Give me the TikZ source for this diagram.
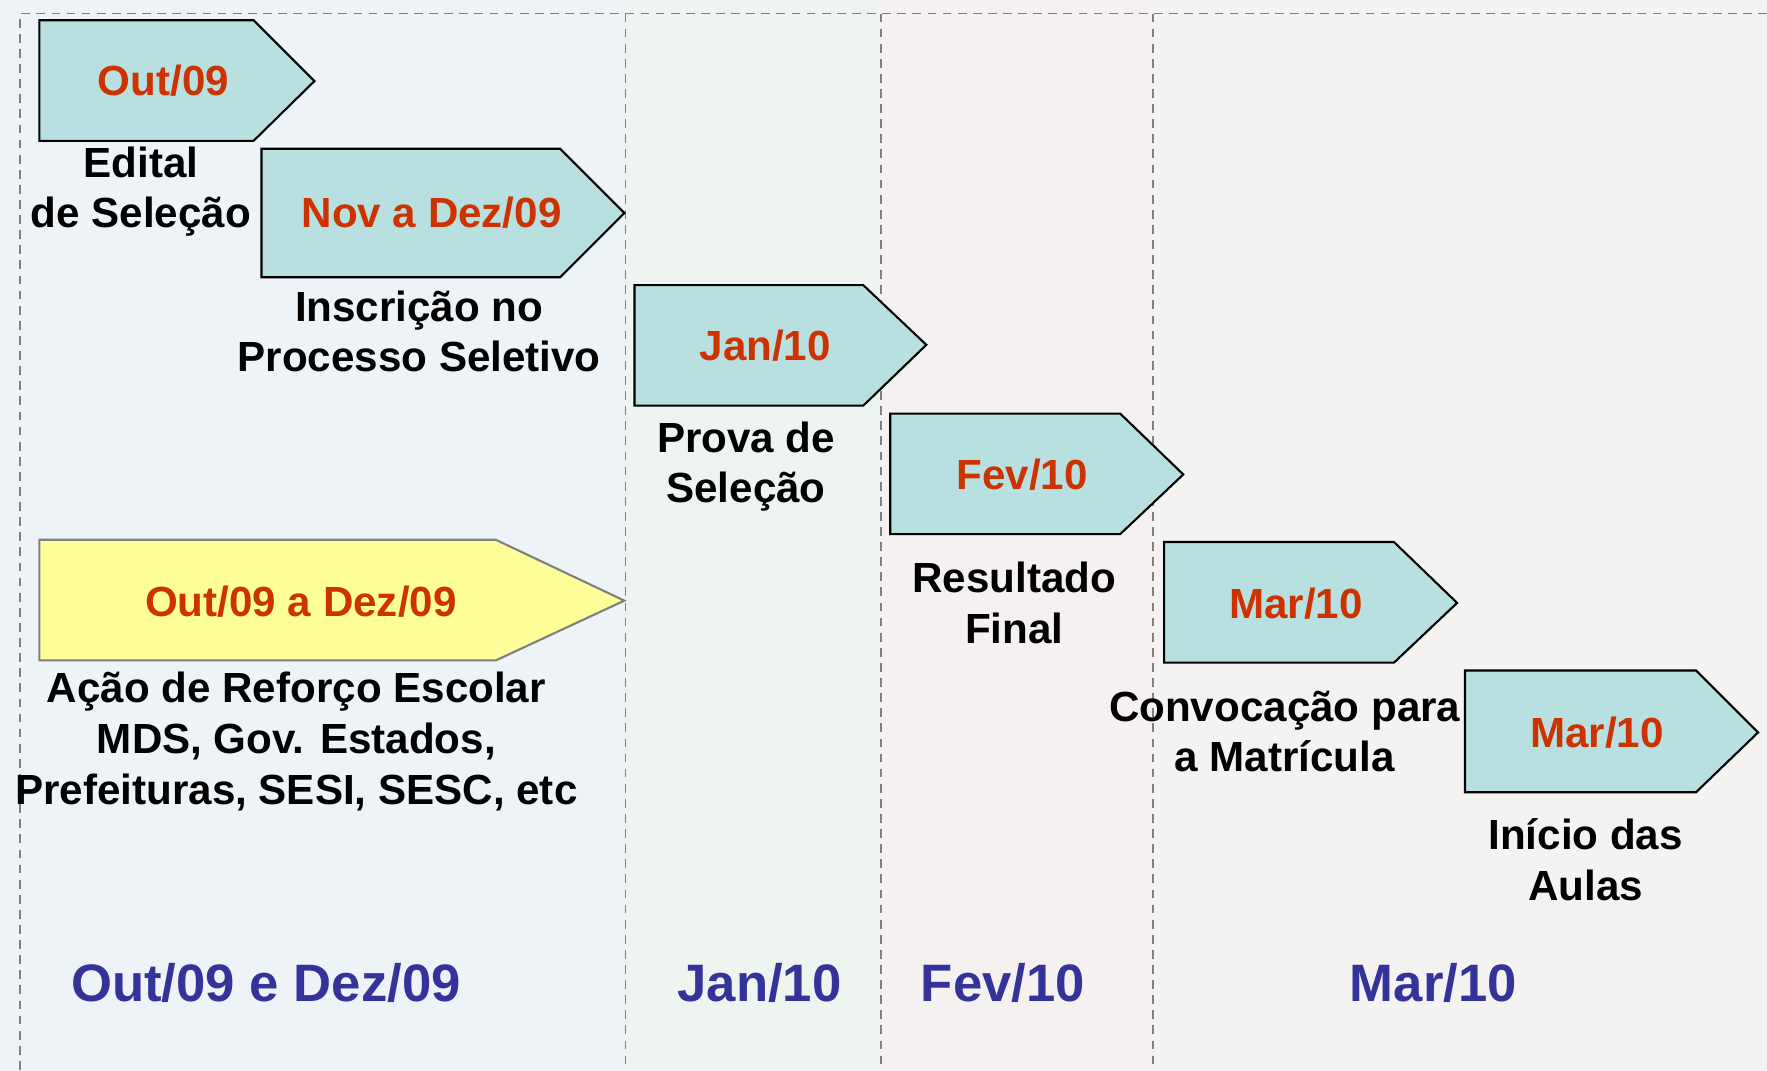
\documentclass[tikz,border=0pt]{standalone}
\usepackage{fontspec}
\setmainfont{Liberation Sans}
\definecolor{faseteal}{HTML}{B9E0E1}
\definecolor{acaoyellow}{HTML}{FFFF99}
\definecolor{datared}{HTML}{CC3300}
\definecolor{mesblue}{HTML}{333399}

\begin{document}
\begin{tikzpicture}[x=0.01127cm, y=-0.01127cm,
	fase/.style={draw=black, fill=faseteal, line width=0.6pt},
	acao/.style={draw=gray, fill=acaoyellow, line width=0.6pt},
	data/.style={text=datared, font=\fontsize{12}{14.4}\selectfont\bfseries},
	legenda/.style={align=center, font=\fontsize{12}{14.4}\selectfont\bfseries},
	mes/.style={text=mesblue, font=\fontsize{15}{18}\selectfont\bfseries},
	grade/.style={draw=gray, dash pattern=on 2.5pt off 1.8pt, line width=0.5pt}]
		\useasboundingbox (0,0) rectangle (1568,950);
		% fundo das colunas
		\fill[color={rgb,255:red,238;green,243;blue,248}] (0,0) rectangle (555,950);
		\fill[color={rgb,255:red,238;green,244;blue,240}] (555,0) rectangle (782,950);
		\fill[color={rgb,255:red,244;green,241;blue,240}] (782,0) rectangle (1023,950);
		\fill[color={rgb,255:red,245;green,242;blue,242}] (1023,0) rectangle (1568,950);
		% linhas tracejadas
		\draw[grade] (1568,12) -- (18,12) -- (18,950);
		\draw[grade] (555,12) -- (555,950);
		\draw[grade] (782,12) -- (782,950);
		\draw[grade] (1023,12) -- (1023,950);

		% etapas
		\draw[fase] (35,18) -- (225,18) -- (279,72) -- (225,125) -- (35,125) -- cycle;
		\node[data] (edital) at (145,72) {Out/09};
		\node[legenda] (editalTxt) at (125,170) {Edital\\de Seleção};

		\draw[fase] (232,132) -- (497,132) -- (554,189) -- (497,246) -- (232,246) -- cycle;
		\node[data] (inscricao) at (383,189) {Nov a Dez/09};
		\node[legenda] (inscricaoTxt) at (372,294) {Inscrição no\\Processo Seletivo};

		\draw[fase] (563,253) -- (766,253) -- (822,306) -- (766,360) -- (563,360) -- cycle;
		\node[data] (prova) at (679,307) {Jan/10};
		\node[legenda] (provaTxt) at (662,414) {Prova de\\Seleção};

		\draw[fase] (790,367) -- (994,367) -- (1050,421) -- (994,474) -- (790,474) -- cycle;
		\node[data] (resultado) at (907,421) {Fev/10};
		\node[legenda] (resultadoTxt) at (900,535) {Resultado\\Final};

		\draw[fase] (1033,481) -- (1237,481) -- (1293,535) -- (1237,588) -- (1033,588) -- cycle;
		\node[data] (convocacao) at (1150,536) {Mar/10};
		\node[legenda] (convocacaoTxt) at (1140,649) {Convocação para\\a Matrícula};

		\draw[fase] (1300,595) -- (1505,595) -- (1560,650) -- (1505,703) -- (1300,703) -- cycle;
		\node[data] (aulas) at (1417,650) {Mar/10};
		\node[legenda] (aulasTxt) at (1407,763) {Início das\\Aulas};

		% reforco escolar
		\draw[acao] (35,479) -- (440,479) -- (554,533) -- (440,586) -- (35,586) -- cycle;
		\node[data] (reforco) at (267,534) {Out/09 a Dez/09};
		\node[legenda] (reforcoTxt) at (263,658)
			{Ação de Reforço Escolar\\MDS, Gov. Estados,\\Prefeituras, SESI, SESC, etc};

		% meses
		\node[mes] (mesOutDez) at (236,872) {Out/09 e Dez/09};
		\node[mes] (mesJan) at (674,872) {Jan/10};
		\node[mes] (mesFev) at (890,872) {Fev/10};
		\node[mes] (mesMar) at (1272,872) {Mar/10};
	\end{tikzpicture}
\end{document}
